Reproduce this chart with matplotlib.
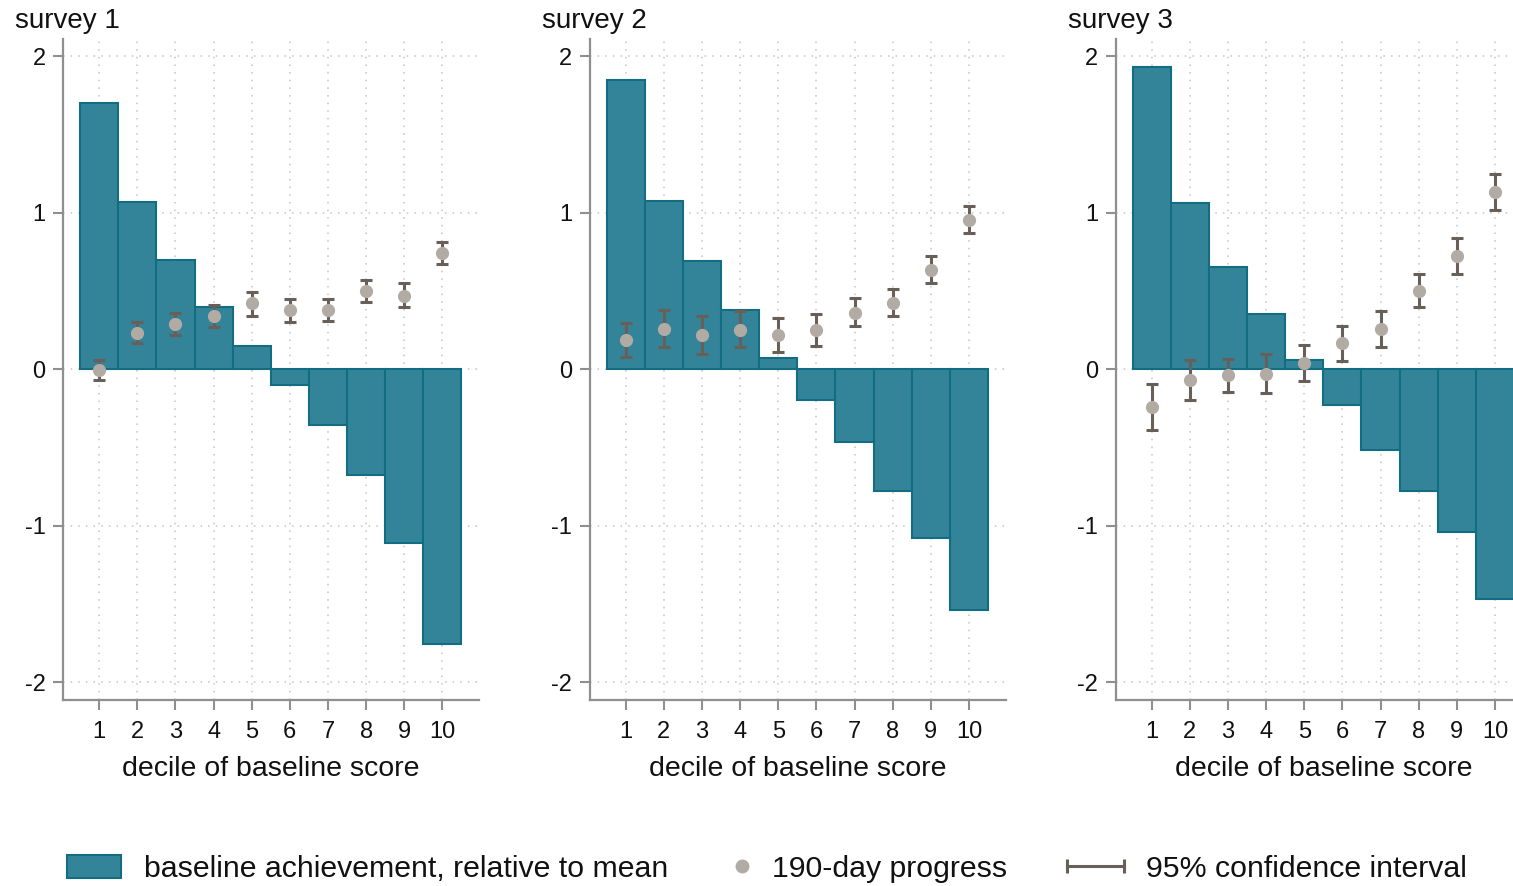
import matplotlib
matplotlib.use("Agg")
import matplotlib.pyplot as plt
from matplotlib.patches import Patch
from matplotlib.lines import Line2D
from matplotlib.legend_handler import HandlerLine2D
import numpy as np

plt.rcParams['font.family'] = ['Liberation Sans', 'DejaVu Sans']

deciles = [1, 2, 3, 4, 5, 6, 7, 8, 9, 10]
titles = ["survey 1", "survey 2", "survey 3"]

baseline_s1 = [1.70, 1.07, 0.70, 0.40, 0.145, -0.10, -0.36, -0.68, -1.11, -1.76]
baseline_s2 = [1.845, 1.075, 0.69, 0.376, 0.072, -0.195, -0.463, -0.78, -1.077, -1.54]
baseline_s3 = [1.93, 1.06, 0.65, 0.35, 0.057, -0.23, -0.518, -0.777, -1.04, -1.467]

progress_s1 = [-0.006, 0.23, 0.29, 0.34, 0.42, 0.38, 0.38, 0.50, 0.47, 0.74]
ci_low_s1 = [-0.07, 0.17, 0.22, 0.27, 0.34, 0.30, 0.31, 0.43, 0.40, 0.67]
ci_high_s1 = [0.06, 0.30, 0.36, 0.41, 0.49, 0.45, 0.45, 0.57, 0.55, 0.81]

progress_s2 = [0.187, 0.257, 0.217, 0.253, 0.217, 0.25, 0.36, 0.42, 0.635, 0.955]
ci_low_s2 = [0.08, 0.14, 0.094, 0.14, 0.11, 0.15, 0.274, 0.34, 0.55, 0.87]
ci_high_s2 = [0.295, 0.38, 0.34, 0.37, 0.325, 0.355, 0.454, 0.51, 0.72, 1.045]

progress_s3 = [-0.245, -0.072, -0.04, -0.03, 0.036, 0.164, 0.257, 0.50, 0.72, 1.13]
ci_low_s3 = [-0.39, -0.20, -0.146, -0.15, -0.076, 0.053, 0.14, 0.40, 0.605, 1.015]
ci_high_s3 = [-0.097, 0.057, 0.066, 0.094, 0.153, 0.276, 0.37, 0.61, 0.84, 1.245]

baselines = [baseline_s1, baseline_s2, baseline_s3]
progresses = [progress_s1, progress_s2, progress_s3]
ci_lows = [ci_low_s1, ci_low_s2, ci_low_s3]
ci_highs = [ci_high_s1, ci_high_s2, ci_high_s3]

yticks = [-2, -1, 0, 1, 2]
legend_labels = ["baseline achievement, relative to mean", "190-day progress", "95% confidence interval"]

BAR = "#338499"
BAR_EDGE = "#136d82"
PT = "#b1aba4"
CI = "#675f58"
SPINE = "#8f8f8f"
GRID = "#c4c4c4"
TXT = "#111111"

W, H = 1513, 886
fig = plt.figure(figsize=(W / 100, H / 100), dpi=100)

lefts_px = [63, 589.5, 1115.5]
ax_w_px = 416
top_px, bot_px = 39, 700

for i in range(3):
    ax = fig.add_axes([lefts_px[i] / W, 1 - bot_px / H, ax_w_px / W, (bot_px - top_px) / H])
    x = np.array(deciles)
    ax.bar(x, baselines[i], width=1.0, color=BAR, edgecolor=BAR_EDGE, linewidth=1.5, zorder=2)
    p = np.array(progresses[i])
    lo = p - np.array(ci_lows[i])
    hi = np.array(ci_highs[i]) - p
    ax.errorbar(x, p, yerr=[lo, hi], fmt='none', ecolor=CI, elinewidth=2.2,
                capsize=4.5, capthick=2.2, zorder=3)
    ax.plot(x, p, 'o', color=PT, markersize=9.5, zorder=4, markeredgewidth=0)

    ax.set_xlim(0.05, 10.96)
    ax.set_ylim(-2.115, 2.11)
    ax.set_xticks(deciles)
    ax.set_xticklabels([str(d) for d in deciles])
    ax.set_yticks(yticks)
    ax.set_yticklabels([str(t) for t in yticks])
    for s in ['top', 'right']:
        ax.spines[s].set_visible(False)
    for s in ['left', 'bottom']:
        ax.spines[s].set_color(SPINE)
        ax.spines[s].set_linewidth(1.6)
    ax.tick_params(axis='both', colors=SPINE, labelcolor=TXT, labelsize=17,
                   length=7.5, width=1.5)
    ax.tick_params(axis='x', pad=7.5)
    ax.tick_params(axis='y', pad=5)
    ax.grid(True, linestyle=(0, (1, 4)), color=GRID, linewidth=1.1, zorder=0)
    ax.set_axisbelow(True)
    ax.set_xlabel("decile of baseline score", fontsize=20.5, color=TXT, labelpad=9.5)
    fig.text((lefts_px[i] - 48) / W, 1 - 28 / H, titles[i], fontsize=20, color=TXT,
             ha='left', va='baseline')

bar_h = Patch(facecolor=BAR, edgecolor=BAR_EDGE, linewidth=1.5)
pt_h = Line2D([], [], linestyle='none', marker='o', color=PT, markersize=10, markeredgewidth=0)
ci_h = Line2D([], [], linestyle='-', color=CI, linewidth=2.2, marker='|', markersize=10,
              markeredgewidth=2.2)

LFS = 21.75
fpx = LFS * 100 / 72
items = [
    (bar_h, legend_labels[0], 67, 121, 144, None),
    (pt_h, legend_labels[1], 727, 757, 772, HandlerLine2D(numpoints=1)),
    (ci_h, legend_labels[2], 1067, 1124, 1146, HandlerLine2D(numpoints=2, marker_pad=0.0)),
]
for h, lab, x0, x1, xt, hm in items:
    kw = {}
    if hm is not None:
        kw['handler_map'] = {h: hm}
    lg = fig.legend([h], [lab], loc='center left', bbox_to_anchor=(x0 / W, 1 - 869 / H),
                    frameon=False, fontsize=LFS, borderpad=0, borderaxespad=0,
                    handlelength=(x1 - x0) / fpx, handleheight=0.75,
                    handletextpad=(xt - x1) / fpx, labelcolor=TXT, **kw)

fig.savefig("out.png", dpi=100)
